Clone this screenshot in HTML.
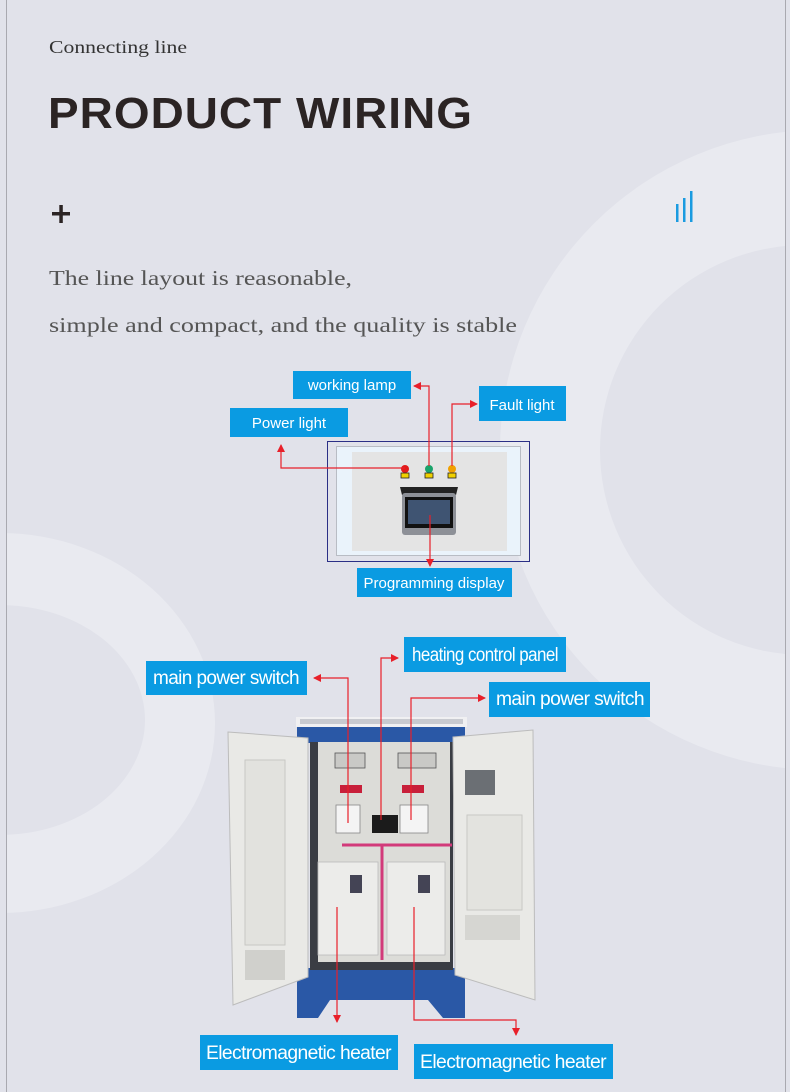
<!DOCTYPE html>
<html><head><meta charset="utf-8"><style>
html,body{margin:0;padding:0;background:#e1e2ea;}
svg{display:block}
</style></head><body>
<svg width="790" height="1092" viewBox="0 0 790 1092" xmlns="http://www.w3.org/2000/svg">
<defs>
<marker id="ar" markerWidth="8" markerHeight="8" refX="7" refY="4" orient="auto" markerUnits="userSpaceOnUse"><path d="M0,0 L8,4 L0,8 z" fill="#e8202a"/></marker>
<clipPath id="pg"><rect x="6" y="0" width="779" height="1092"/></clipPath>
</defs>
<rect width="790" height="1092" fill="#e1e2ea"/>
<g clip-path="url(#pg)">
<circle cx="820" cy="450" r="320" fill="#e9eaf0"/>
<circle cx="805" cy="450" r="205" fill="#e1e2ea"/>
<ellipse cx="0" cy="723" rx="215" ry="190" fill="#e9eaf0"/>
<ellipse cx="0" cy="720" rx="145" ry="115" fill="#e1e2ea"/>
</g>
<line x1="6.5" y1="0" x2="6.5" y2="1092" stroke="#a9a9b0" stroke-width="1"/>
<line x1="785.5" y1="0" x2="785.5" y2="1092" stroke="#a9a9b0" stroke-width="1"/>

<text x="49" y="53" font-family="Liberation Serif, serif" font-size="18" fill="#333" textLength="138" lengthAdjust="spacingAndGlyphs">Connecting line</text>
<text x="48" y="128" font-family="Liberation Sans, sans-serif" font-weight="bold" font-size="44" fill="#2b2424" letter-spacing="1" textLength="425" lengthAdjust="spacingAndGlyphs">PRODUCT WIRING</text>
<rect x="52" y="212" width="18" height="3.5" fill="#2b2424"/><rect x="59.3" y="205" width="3.5" height="18" fill="#2b2424"/>
<rect x="676" y="204" width="2.5" height="18" fill="#1a9be0"/><rect x="683" y="198" width="2.5" height="24" fill="#1a9be0"/><rect x="690" y="191" width="2.5" height="31" fill="#1a9be0"/>
<text x="49" y="285" font-family="Liberation Serif, serif" font-size="21" fill="#555" textLength="303" lengthAdjust="spacingAndGlyphs">The line layout is reasonable,</text>
<text x="49" y="332" font-family="Liberation Serif, serif" font-size="21" fill="#555" textLength="468" lengthAdjust="spacingAndGlyphs">simple and compact, and the quality is stable</text>

<!-- control panel -->
<rect x="327.5" y="441.5" width="202" height="120" fill="none" stroke="#2b2f86" stroke-width="1"/>
<rect x="336.5" y="446.5" width="184" height="109" fill="#eaf3fb" stroke="#b8bcc4"/>
<rect x="352" y="452" width="155" height="99" fill="#e4e4e4"/>
<circle cx="405" cy="469" r="4" fill="#e21a1a"/><rect x="401" y="473" width="8" height="5" fill="#f0d000" stroke="#222" stroke-width="0.8"/>
<circle cx="429" cy="469" r="4" fill="#1aa36a"/><rect x="425" y="473" width="8" height="5" fill="#f0d000" stroke="#222" stroke-width="0.8"/>
<circle cx="452" cy="469" r="4" fill="#f0a000"/><rect x="448" y="473" width="8" height="5" fill="#f0d000" stroke="#222" stroke-width="0.8"/>
<path d="M400,487 L458,487 L456,495 L402,495 z" fill="#222"/>
<rect x="402" y="493" width="54" height="42" rx="3" fill="#8d9097"/>
<rect x="405" y="497" width="48" height="31" fill="#111"/>
<rect x="408" y="500" width="42" height="24" fill="#3f5472"/>
<g stroke="#e8202a" stroke-width="1.2" fill="none">
<polyline points="405,468 281,468 281,445" marker-end="url(#ar)"/>
<polyline points="429,466 429,386 414,386" marker-end="url(#ar)"/>
<polyline points="452,466 452,404 477,404" marker-end="url(#ar)"/>
<polyline points="430,515 430,566" marker-end="url(#ar)"/>
</g>
<g font-family="Liberation Sans, sans-serif" fill="#fff" font-size="15" text-anchor="middle">
<rect x="293" y="371" width="118" height="28" fill="#0a9be2"/><text x="352" y="390">working lamp</text>
<rect x="230" y="408" width="118" height="29" fill="#0a9be2"/><text x="289" y="428">Power light</text>
<rect x="479" y="386" width="87" height="35" fill="#0a9be2"/><text x="522" y="410">Fault light</text>
<rect x="357" y="568" width="155" height="29" fill="#0a9be2"/><text x="434" y="588">Programming display</text>
</g>

<!-- cabinet -->
<rect x="296" y="717" width="171" height="10" fill="#f0f0f2"/>
<rect x="300" y="719" width="163" height="5" fill="#c8cad0"/>
<rect x="297" y="727" width="168" height="16" fill="#2a58a6"/>
<path d="M297,968 L465,968 L465,1018 L443,1018 L428,1000 L330,1000 L318,1018 L297,1018 z" fill="#2a58a6"/>
<rect x="310" y="742" width="143" height="228" fill="#3a3d44"/>
<rect x="318" y="742" width="132" height="220" fill="#dcdcd8"/>
<rect x="335" y="753" width="30" height="15" fill="#c9c9c6" stroke="#555" stroke-width="0.8"/>
<rect x="398" y="753" width="38" height="15" fill="#c9c9c6" stroke="#555" stroke-width="0.8"/>
<rect x="340" y="785" width="22" height="8" fill="#c81f3a"/><rect x="402" y="785" width="22" height="8" fill="#c81f3a"/>
<rect x="336" y="805" width="24" height="28" fill="#f4f4f4" stroke="#888" stroke-width="0.8"/>
<rect x="400" y="805" width="28" height="28" fill="#f4f4f4" stroke="#888" stroke-width="0.8"/>
<rect x="372" y="815" width="26" height="18" fill="#1b1b1b"/>
<path d="M342,845 L452,845 M382,845 L382,960" stroke="#d23a7a" stroke-width="3" fill="none"/>
<rect x="318" y="862" width="60" height="93" fill="#ececea" stroke="#bbb" stroke-width="0.8"/>
<rect x="387" y="862" width="58" height="93" fill="#ececea" stroke="#bbb" stroke-width="0.8"/>
<rect x="350" y="875" width="12" height="18" fill="#445"/><rect x="418" y="875" width="12" height="18" fill="#445"/>
<path d="M228,732 L308,738 L308,977 L233,1005 z" fill="#e9e9e6" stroke="#bcbcbc"/>
<rect x="245" y="760" width="40" height="185" fill="#e2e2de" stroke="#c8c8c4"/>
<rect x="245" y="950" width="40" height="30" fill="#d0d0cc"/>
<path d="M453,737 L533,730 L535,1000 L455,975 z" fill="#e9e9e6" stroke="#bcbcbc"/>
<rect x="465" y="770" width="30" height="25" fill="#6b6f74"/>
<rect x="467" y="815" width="55" height="95" fill="#e3e3df" stroke="#c8c8c4"/>
<rect x="465" y="915" width="55" height="25" fill="#d6d6d2"/>
<g stroke="#e8202a" stroke-width="1.2" fill="none">
<polyline points="348,823 348,678 314,678" marker-end="url(#ar)"/>
<polyline points="381,820 381,658 398,658" marker-end="url(#ar)"/>
<polyline points="411,820 411,698 485,698" marker-end="url(#ar)"/>
<polyline points="337,907 337,1022" marker-end="url(#ar)"/>
<polyline points="414,907 414,1020 516,1020 516,1035" marker-end="url(#ar)"/>
</g>
<g font-family="Liberation Sans, sans-serif" fill="#fff" font-size="19" letter-spacing="-0.6">
<rect x="146" y="661" width="161" height="34" fill="#0a9be2"/><text x="153" y="684" textLength="146" lengthAdjust="spacingAndGlyphs">main power switch</text>
<rect x="404" y="637" width="162" height="35" fill="#0a9be2"/><text x="412" y="661" textLength="146" lengthAdjust="spacingAndGlyphs">heating control panel</text>
<rect x="489" y="682" width="161" height="35" fill="#0a9be2"/><text x="496" y="705" textLength="148" lengthAdjust="spacingAndGlyphs">main power switch</text>
<rect x="200" y="1035" width="198" height="35" fill="#0a9be2"/><text x="206" y="1059" textLength="185" lengthAdjust="spacingAndGlyphs">Electromagnetic heater</text>
<rect x="414" y="1044" width="199" height="35" fill="#0a9be2"/><text x="420" y="1068" textLength="186" lengthAdjust="spacingAndGlyphs">Electromagnetic heater</text>
</g>
</svg>
</body></html>
